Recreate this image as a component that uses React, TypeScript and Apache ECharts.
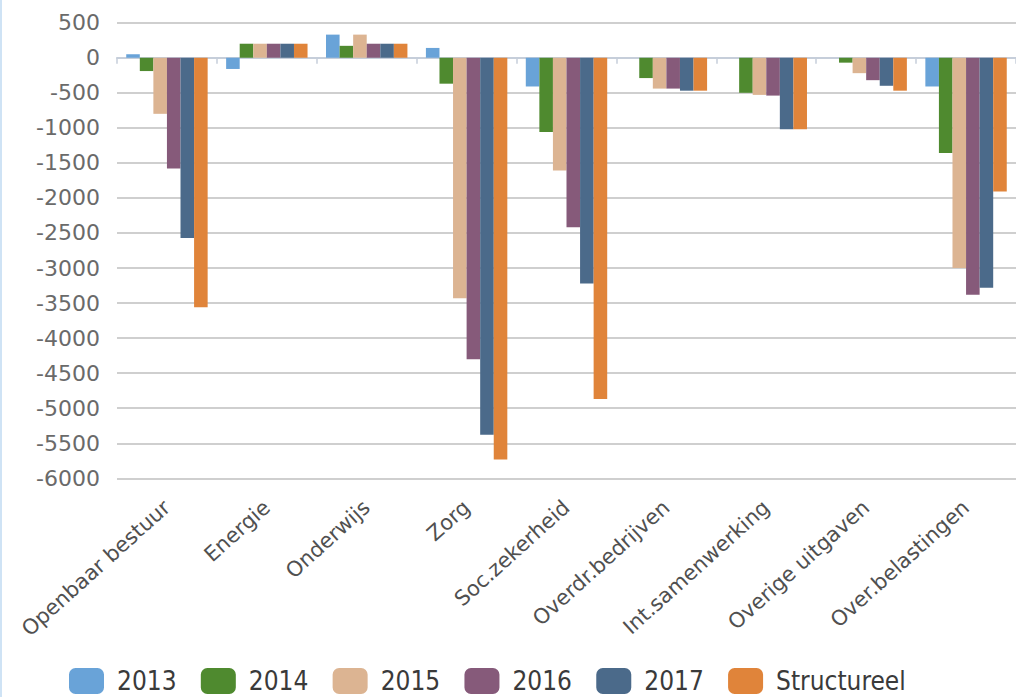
import React, { useEffect, useRef } from "react";
import * as echarts from "echarts";

const categories = [
  "Openbaar bestuur",
  "Energie",
  "Onderwijs",
  "Zorg",
  "Soc.zekerheid",
  "Overdr.bedrijven",
  "Int.samenwerking",
  "Overige uitgaven",
  "Over.belastingen",
];

const seriesNames = ["2013", "2014", "2015", "2016", "2017", "Structureel"];

const values2013 = [50, -160, 330, 140, -410, 0, 0, 0, -410];
const values2014 = [-190, 200, 170, -370, -1060, -290, -500, -70, -1360];
const values2015 = [-800, 200, 330, -3430, -1610, -440, -530, -220, -3000];
const values2016 = [-1580, 200, 200, -4300, -2420, -440, -540, -320, -3380];
const values2017 = [-2570, 200, 200, -5380, -3220, -470, -1020, -400, -3280];
const valuesStructureel = [-3560, 200, 200, -5730, -4870, -470, -1020, -470, -1910];

const colors = ["#69a3d8", "#4f8a2f", "#dcb492", "#865a7a", "#4b6a8a", "#e0843a"];

const yMin = -6000;
const yMax = 500;
const yInterval = 500;

export default function App() {
  const ref = useRef<HTMLDivElement>(null);

  useEffect(() => {
    if (!ref.current) return;
    const chart = echarts.init(ref.current, null, { renderer: "svg" });
    const allValues = [values2013, values2014, values2015, values2016, values2017, valuesStructureel];
    chart.setOption({
      animation: false,
      backgroundColor: "#ffffff",
      color: colors,
      grid: { left: 117, top: 22.7, width: 905, height: 455.6, containLabel: false },
      legend: {
        data: seriesNames,
        left: 64,
        top: 663,
        icon: "roundRect",
        itemWidth: 35,
        itemHeight: 26,
        itemGap: 24.3,
        textStyle: {
          fontFamily: "'DejaVu Sans Condensed', 'DejaVu Sans', sans-serif",
          fontSize: 26,
          lineHeight: 26,
          color: "#3a3a3a",
          padding: [0, 0, 0, 8],
        },
      },
      xAxis: {
        type: "category",
        data: categories,
        axisLine: { show: true, lineStyle: { color: "#c6ceda", width: 2 } },
        axisTick: { show: true, length: 6, lineStyle: { color: "#c6ceda", width: 1.5 } },
        axisLabel: {
          rotate: 42,
          interval: 0,
          margin: 26,
          fontFamily: "'DejaVu Sans', sans-serif",
          fontSize: 21,
          color: "#505050",
        },
      },
      yAxis: {
        type: "value",
        min: yMin,
        max: yMax,
        interval: yInterval,
        axisLine: { show: false },
        axisTick: { show: false },
        splitLine: { show: true, lineStyle: { color: "#cfcfcf", width: 2 } },
        axisLabel: {
          margin: 17,
          fontFamily: "'DejaVu Sans', sans-serif",
          fontSize: 22,
          color: "#6a6a6a",
          formatter: (v: number) => String(v),
        },
      },
      series: seriesNames.map((name, i) => ({
        name,
        type: "bar",
        data: allValues[i],
        barGap: "0%",
        barCategoryGap: "18.5%",
        itemStyle: { color: colors[i] },
      })),
      graphic: [
        {
          type: "rect",
          left: 0,
          top: 0,
          shape: { width: 2, height: 697 },
          style: { fill: "#cfe3f5" },
          silent: true,
        },
      ],
    });
    return () => chart.dispose();
  }, []);

  return (
    <div
      ref={ref}
      style={{ position: "absolute", left: 0, top: 0, width: 1016, height: 697, overflow: "hidden" }}
    />
  );
}
